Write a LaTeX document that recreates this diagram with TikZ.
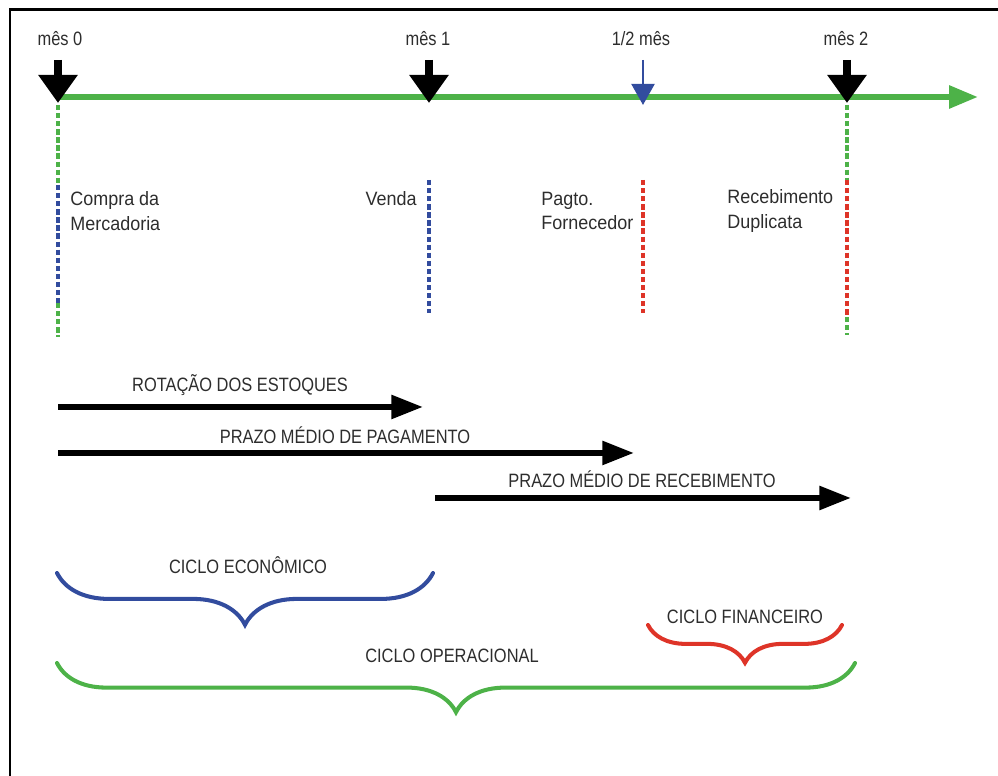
\documentclass[tikz,border=0pt]{standalone}
\usepackage{fontspec}
\setmainfont{Liberation Sans}[FakeStretch=0.85]
\newfontfamily\eventfont{Liberation Sans}[FakeStretch=0.93]
\usetikzlibrary{arrows.meta, decorations.pathreplacing, calc}
\definecolor{cgreen}{RGB}{77,178,72}
\definecolor{cblue}{RGB}{50,76,158}
\definecolor{cred}{RGB}{222,52,40}
\definecolor{ctext}{RGB}{45,45,45}
\tikzset{
  monthtext/.style={text=ctext, font=\fontsize{11}{13.5}\selectfont, inner sep=0pt}, % month labels
  eventtext/.style={text=ctext, font=\eventfont\fontsize{11}{14}\selectfont, align=left, inner sep=0pt},
  timeline/.style={cgreen, line width=3.4pt, -{Triangle[width=12.5pt,length=16.5pt]}},
  montharrow/.style={black, line width=4.8pt, -{Triangle[width=21.5pt,length=16pt]}},
  halfarrow/.style={cblue, line width=1.7pt, -{Triangle[width=13pt,length=12pt]}},
  vdash/.style={line width=2.2pt, dash pattern=on 3pt off 1.6pt},
  durarrow/.style={black, line width=3.4pt, -{Triangle[width=13pt,length=18pt]}},
  cyclebrace/.style={decorate, decoration={brace, mirror, amplitude=#1}, line width=2.3pt, line cap=round}
}
\begin{document}
\begin{tikzpicture}[x={(0.02cm,0)}, y={(0,-0.02cm)}]
    \useasboundingbox (0,0) rectangle (998,776);

    % Frame
    \draw[line width=1.7pt] (998,10) -- (10,10) -- (10,776);

    % Time line
    \coordinate (t0) at (58,97);
    \coordinate (tend) at (978,97);
    \draw[timeline] (t0) -- (tend);

    % Month marks
    \coordinate (p0) at (58,103);
    \coordinate (p1) at (429,103);
    \coordinate (ph) at (643,105);
    \coordinate (p2) at (847,103);
    \draw[montharrow] ($(p0)-(0,43)$) -- (p0);
    \draw[montharrow] ($(p1)-(0,43)$) -- (p1);
    \draw[montharrow] ($(p2)-(0,43)$) -- (p2);
    \draw[halfarrow] ($(ph)-(0,45)$) -- (ph);
    \node[monthtext] (m0) at (60,39) {mês 0};
    \node[monthtext] (m1) at (428,39) {mês 1};
    \node[monthtext] (mh) at (641,39) {1/2 mês};
    \node[monthtext] (m2) at (846,39) {mês 2};

    % Event lines
    \draw[vdash, cgreen] (58,105) -- (58,185);
    \draw[vdash, cblue] (58,185) -- (58,303);
    \draw[vdash, cgreen] (58,303) -- (58,337);
    \draw[vdash, cblue] (429,180) -- (429,313);
    \draw[vdash, cred] (643,180) -- (643,313);
    \draw[vdash, cgreen] (847,105) -- (847,180);
    \draw[vdash, cred] (847,180) -- (847,317);
    \draw[vdash, cgreen] (847,317) -- (847,335);

    % Events
    \node[eventtext, anchor=west] (compra) at (70,211) {Compra da\\Mercadoria};
    \node[eventtext, anchor=east] (venda) at (417,199) {Venda};
    \node[eventtext, anchor=west] (pagto) at (541,211) {Pagto.\\Fornecedor};
    \node[eventtext, anchor=west] (receb) at (727,211) {Recebimento\\Duplicata};

    % Durations
    \coordinate (r0) at (58,407);
    \coordinate (r1) at (423,407);
    \coordinate (a0) at (58,453);
    \coordinate (a1) at (634,453);
    \coordinate (b0) at (435,498);
    \coordinate (b1) at (851,498);
    \draw[durarrow] (r0) -- (r1);
    \draw[durarrow] (a0) -- (a1);
    \draw[durarrow] (b0) -- (b1);
    \node[monthtext] (rot) at (240,385) {ROTAÇÃO DOS ESTOQUES};
    \node[monthtext] (pmp) at (345,435) {PRAZO MÉDIO DE PAGAMENTO};
    \node[monthtext] (pmr) at (642,479) {PRAZO MÉDIO DE RECEBIMENTO};

    % Cycles
    \coordinate (e0) at (57,573);
    \coordinate (e1) at (433,573);
    \coordinate (o0) at (57,663);
    \coordinate (o1) at (855,663);
    \coordinate (f0) at (648,625);
    \coordinate (f1) at (842,625);
    \draw[cyclebrace=29.5pt, cblue] (e0) -- (e1);
    \draw[cyclebrace=28pt, cgreen] (o0) -- (o1);
    \draw[cyclebrace=21.5pt, cred] (f0) -- (f1);
    \node[monthtext] (eco) at (248,565) {CICLO ECONÔMICO};
    \node[monthtext] (ope) at (452,656) {CICLO OPERACIONAL};
    \node[monthtext] (fin) at (745,617) {CICLO FINANCEIRO};
\end{tikzpicture}
\end{document}
